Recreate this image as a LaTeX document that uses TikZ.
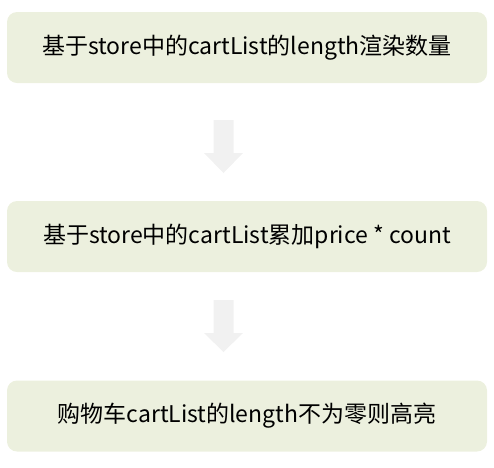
\documentclass[tikz,border=0pt]{standalone}
\usepackage{fontspec}
\setmainfont{Noto Sans CJK SC}
\definecolor{boxfill}{RGB}{236,240,222}
\definecolor{arrowgray}{RGB}{241,241,241}
\begin{document}
\begin{tikzpicture}[x=1pt,y=-1pt,
  stepbox/.style={fill=boxfill,rounded corners=10pt,minimum width=480pt,minimum height=71pt,inner sep=0pt,font=\fontsize{23}{27}\selectfont,text=black},
  blockarrow/.style={fill=arrowgray,draw=none}]
\useasboundingbox (0,0) rectangle (494,467);
\node[stepbox] (s1) at (247,47.5) {基于store中的cartList的length渲染数量};
\node[stepbox] (s2) at (247,236.5) {基于store中的cartList累加price * count};
\node[stepbox] (s3) at (247,416) {购物车cartList的length不为零则高亮};
\coordinate (a1) at (223.5,120);
\coordinate (a2) at (223.5,300);
\fill[blockarrow] (a1) ++(-10,0) -- ++(20,0) -- ++(0,33) -- ++(9.5,0) -- ++(-19.5,20) -- ++(-19.5,-20) -- ++(9.5,0) -- cycle;
\fill[blockarrow] (a2) ++(-10,0) -- ++(20,0) -- ++(0,33) -- ++(9.5,0) -- ++(-19.5,19) -- ++(-19.5,-19) -- ++(9.5,0) -- cycle;
\end{tikzpicture}
\end{document}
